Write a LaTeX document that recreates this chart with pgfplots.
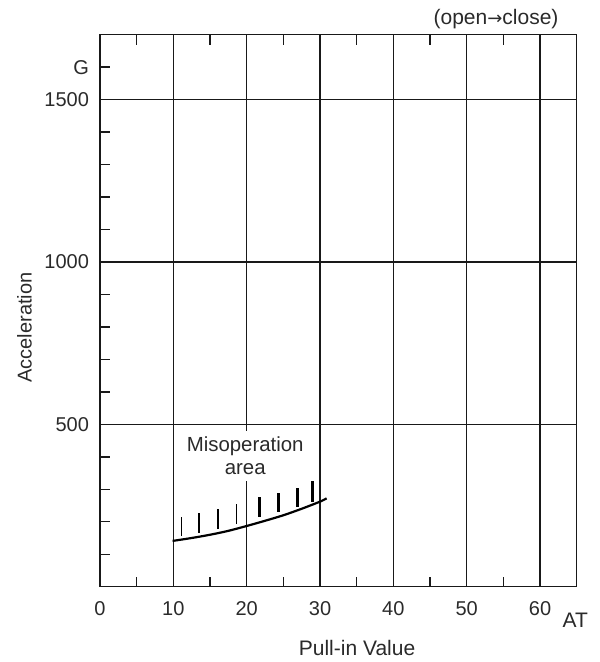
\documentclass[border=0pt]{standalone}
\usepackage{fontspec}
\setmainfont{Liberation Sans}
\newfontfamily\dejavu{DejaVu Sans}
\usepackage{pgfplots}
\pgfplotsset{compat=1.18}
\definecolor{txt}{HTML}{2A2A2A}
\begin{document}
\fontsize{10}{12}\selectfont
\begin{tikzpicture}
\path[use as bounding box] (-50pt,-37.65pt) rectangle (249.5pt,293.35pt);
\begin{axis}[
  scale only axis,
  width=238.35pt, height=276pt,
  xmin=0, xmax=65, ymin=0, ymax=1700,
  xtick={0,10,20,30,40,50,60},
  minor xtick={5,15,25,35,45,55},
  ytick={500,1000,1500},
  minor ytick={100,200,300,400,600,700,800,900,1100,1200,1300,1400,1600},
  extra y ticks={1600}, extra y tick labels={G},
  extra y tick style={grid=none},
  xtick pos=both, ytick pos=left,
  tick align=inside,
  major tick length=0pt, minor tick length=5pt,
  grid=major,
  major grid style={black!90, line width=0.75pt},
  axis line style={black!90, line width=0.75pt},
  minor tick style={black!90, line width=0.7pt},
  /pgf/number format/assume math mode=true,
  /pgf/number format/set thousands separator={},
  tick label style={font=\fontsize{10}{12}\selectfont, text=txt},
  xticklabel style={yshift=-4pt},
  yticklabel style={xshift=-2pt},
  clip=false,
  unbounded coords=jump,
]
\addplot[black, line width=1.1pt, smooth] coordinates {
 (9.9,141) (12.5,150) (15,160) (17.5,172) (20,187) (22.5,203) (25,220) (27.5,240) (30,262) (30.9,272)};
\addplot[black, line width=0.9pt] coordinates {
 (11.1,156) (11.1,214) (11.1,nan)
 (13.5,166) (13.5,226) (13.5,nan)
 (16.1,177) (16.1,238) (16.1,nan)
 (18.6,193) (18.6,255)};
\addplot[black, line width=1.4pt] coordinates {
 (21.7,216) (21.7,275) (21.7,nan)
 (24.3,231) (24.3,290) (24.3,nan)
 (26.9,245) (26.9,305) (26.9,nan)
 (29.0,262) (29.0,326)};
\node[fill=white, align=center, inner xsep=2pt, inner ysep=3pt, text=txt, font=\fontsize{10.2}{11.5}\selectfont] at (axis cs:19.8,404) {Misoperation\\area};
\node[text=txt, font=\fontsize{10.5}{12}\selectfont] at (axis cs:64.8,-103) {AT};
\node[text=txt, font=\fontsize{10.5}{12}\selectfont] at (axis cs:35.05,-190) {Pull-in Value};
\node[text=txt, rotate=90, font=\fontsize{10}{12}\selectfont] at (axis cs:-10.3,798) {Acceleration};
\node[text=txt, font=\fontsize{10.5}{12}\selectfont] at (axis cs:54.0,1747) {(open{\fontsize{9}{10}\selectfont\dejavu →}close)};
\end{axis}
\end{tikzpicture}
\end{document}
